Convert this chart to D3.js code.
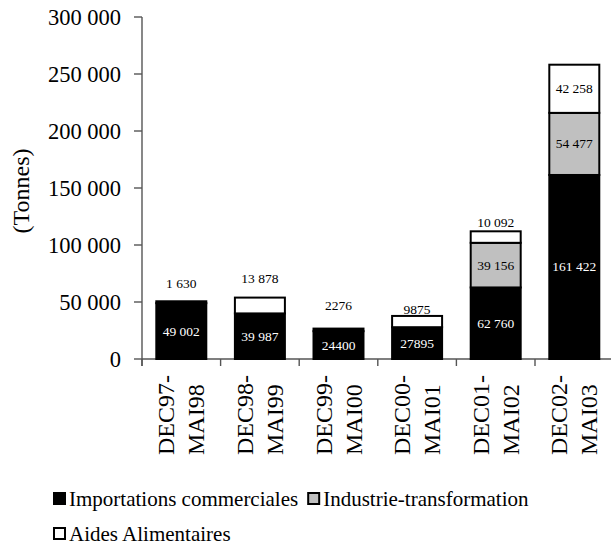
<!DOCTYPE html>
<html>
<head>
<meta charset="utf-8">
<script src="https://cdnjs.cloudflare.com/ajax/libs/d3/7.8.5/d3.min.js"></script>
<style>
  #chart, #chart text { font-family: "Liberation Serif", Tinos, "Times New Roman", Times; }
</style>
</head>
<body style="margin:0">
<svg id="chart" width="611" height="547"></svg>
<script>
// ---- data ----
const categories = [["DEC97-", "MAI98"], ["DEC98-", "MAI99"], ["DEC99-", "MAI00"], ["DEC00-", "MAI01"], ["DEC01-", "MAI02"], ["DEC02-", "MAI03"]];
const importations = [49002, 39987, 24400, 27895, 62760, 161422];
const industrie = [0, 0, 0, 0, 39156, 54477];
const aides = [1630, 13878, 2276, 9875, 10092, 42258];
const importLabels = ["49 002", "39 987", "24400", "27895", "62 760", "161 422"];
const industrieLabels = ["", "", "", "", "39 156", "54 477"];
const aidesLabels = ["1 630", "13 878", "2276", "9875", "10 092", "42 258"];
const seriesNames = ["Importations commerciales", "Industrie-transformation", "Aides Alimentaires"];
const yTicks = [0, 50000, 100000, 150000, 200000, 250000, 300000];
const yTitle = "(Tonnes)";

// ---- layout ----
const svg = d3.select("#chart");
const x0 = 142, yBottom = 359, yTop = 17;
const step = 78.6;
const colors = ["#000000", "#c0c0c0", "#ffffff"];
const labelColors = ["#ffffff", "#000000", "#000000"];
const aidesInside = [false, false, false, false, false, true];
const aidesGap = [18, 19, 23, 6, 9, 0];

const catKeys = categories.map(c => c.join(" "));
const x = d3.scaleBand().domain(catKeys).range([x0, x0 + step * catKeys.length]).paddingInner(0.364).paddingOuter(0.182);
const y = d3.scaleLinear().domain([0, 300000]).range([yBottom, yTop]);
const fmt = v => d3.format(",")(v).replace(/,/g, " ");

const rows = catKeys.map((k, i) => ({ key: k, importations: importations[i], industrie: industrie[i], aides: aides[i] }));
const stack = d3.stack().keys(["importations", "industrie", "aides"])(rows);
const labelSets = [importLabels, industrieLabels, aidesLabels];

function txt(sel) {
  return sel.append("text").attr("font-family", "Liberation Serif")
    .style("font-family", '"Liberation Serif"').attr("fill", "#000");
}

// axes
const gy = svg.append("g");
gy.append("line").attr("x1", x0).attr("x2", x0).attr("y1", yTop).attr("y2", yBottom + 7)
  .attr("stroke", "#555").attr("stroke-width", 1.4);
yTicks.forEach(t => {
  gy.append("line").attr("x1", x0 - 8).attr("x2", x0).attr("y1", y(t)).attr("y2", y(t))
    .attr("stroke", "#555").attr("stroke-width", 1.4);
  txt(gy).attr("x", x0 - 21).attr("y", y(t) + 7.5)
    .attr("text-anchor", "end").attr("font-size", 22.5).text(fmt(t));
});

const gx = svg.append("g");
gx.append("line").attr("x1", x0).attr("x2", 611).attr("y1", yBottom).attr("y2", yBottom)
  .attr("stroke", "#555").attr("stroke-width", 1.4);
for (let i = 0; i <= catKeys.length; i++) {
  const xx = x0 + i * x.step();
  gx.append("line").attr("x1", xx).attr("x2", xx).attr("y1", yBottom).attr("y2", yBottom + 7)
    .attr("stroke", "#555").attr("stroke-width", 1.4);
}
categories.forEach((c, i) => {
  const cx = x(catKeys[i]) + x.bandwidth() / 2;
  c.forEach((line, j) => {
    txt(svg).attr("transform", `translate(${cx - 7 + j * 30},455) rotate(-90)`)
      .attr("text-anchor", "start").attr("font-size", 24).text(line);
  });
});

txt(svg).attr("transform", "translate(29,191) rotate(-90)")
  .attr("text-anchor", "middle").attr("font-size", 24).text(yTitle);

// bars
stack.forEach((layer, s) => {
  svg.append("g").selectAll("rect").data(layer.filter(d => d[1] - d[0] > 0)).join("rect")
    .attr("x", d => x(d.data.key)).attr("width", x.bandwidth())
    .attr("y", d => y(d[1])).attr("height", d => y(d[0]) - y(d[1]))
    .attr("fill", d => (y(d[0]) - y(d[1]) < 3 ? "#000" : colors[s]))
    .attr("stroke", "#000").attr("stroke-width", 2);
});

// labels
stack.forEach((layer, s) => {
  layer.forEach((d, i) => {
    const t = labelSets[s][i];
    if (!t) return;
    const cx = x(d.data.key) + x.bandwidth() / 2;
    let cy, col = labelColors[s];
    if (s === 2 && !aidesInside[i]) {
      cy = y(d[1]) - aidesGap[i];
      col = "#000";
    } else {
      cy = (y(d[0]) + y(d[1])) / 2;
    }
    txt(svg).attr("x", cx).attr("y", cy + 4.5)
      .attr("text-anchor", "middle").attr("font-size", 13.5).attr("fill", col).text(t);
  });
});

// legend
const legendRows = [[0, 1], [2]];
legendRows.forEach((row, r) => {
  let lx = 53;
  const base = 506 + r * 35;
  row.forEach(s => {
    svg.append("rect").attr("x", lx + 1).attr("y", base - 13).attr("width", 11).attr("height", 11)
      .attr("fill", colors[s]).attr("stroke", "#000").attr("stroke-width", 2);
    const t = txt(svg).attr("x", lx + 16).attr("y", base)
      .attr("font-size", 21).text(seriesNames[s]);
    const w = t.node().getComputedTextLength();
    lx += 16 + w + 9;
  });
});
</script>
</body>
</html>
